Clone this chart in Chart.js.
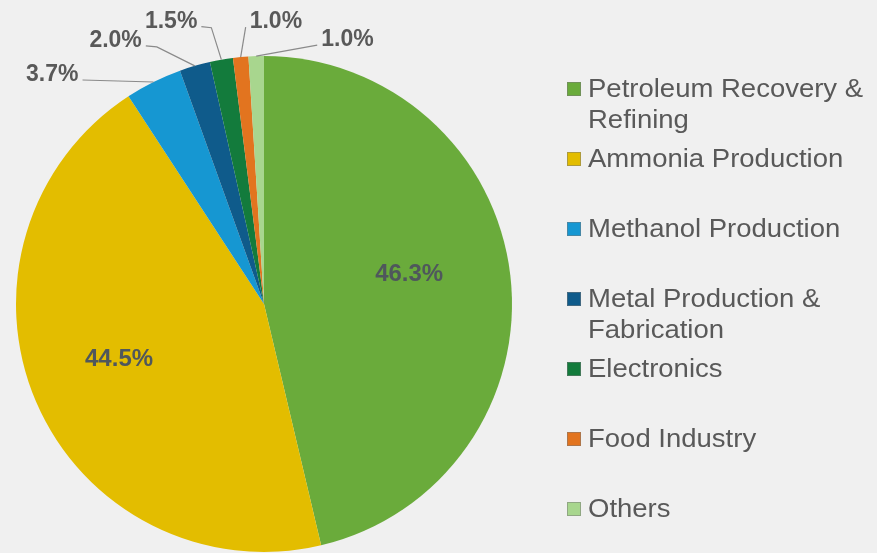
<!DOCTYPE html>
<html>
<head>
<meta charset="utf-8">
<script src="https://cdn.jsdelivr.net/npm/chart.js@4/dist/chart.umd.min.js"></script>
<style>
  html, body { margin: 0; padding: 0; background: #f0f0f0; }
  #wrap { width: 877px; height: 553px; position: relative; }
</style>
</head>
<body>
<div id="wrap"><canvas id="c" width="877" height="553"></canvas></div>
<script>
// ---- data ----
const categories = [
  "Petroleum Recovery & Refining",
  "Ammonia Production",
  "Methanol Production",
  "Metal Production & Fabrication",
  "Electronics",
  "Food Industry",
  "Others"
];
const shares = [46.3, 44.5, 3.7, 2.0, 1.5, 1.0, 1.0];
const sliceColors = ["#6aab3b", "#e3bd00", "#1697d2", "#0f5b8b", "#137b3c", "#e2741f", "#a8d68e"];

// ---- label layout (offsets from the slice anchor) ----
// inside: offset from arc centre point; outside: leader-line points relative to the outer-edge midpoint
const labelLayout = [
  { type: "inside", dx: 22, dy: -17 },
  { type: "inside", dx: -31, dy: 5 },
  { type: "outside", pts: [[-71, -2]], align: "right" },
  { type: "outside", pts: [[-38, -19], [-49, -20]], align: "right" },
  { type: "outside", pts: [[-10, -32], [-20, -33]], align: "right" },
  { type: "outside", pts: [[5, -30]], align: "left" },
  { type: "outside", pts: [[61, -11]], align: "left" }
];

const bgPlugin = {
  id: "bg",
  beforeDraw(chart) {
    const ctx = chart.ctx;
    ctx.save();
    ctx.fillStyle = "#f0f0f0";
    ctx.fillRect(0, 0, chart.width, chart.height);
    ctx.restore();
  }
};

const labelPlugin = {
  id: "sliceLabels",
  afterDatasetsDraw(chart) {
    const ctx = chart.ctx;
    const meta = chart.getDatasetMeta(0);
    meta.data.forEach((arc, i) => {
      const lay = labelLayout[i];
      const txt = shares[i].toFixed(1) + "%";
      ctx.save();
      if (lay.type === "inside") {
        const c = arc.getCenterPoint();
        ctx.font = "bold 24px 'Liberation Sans', Arial, sans-serif";
        ctx.fillStyle = "#4f575c";
        ctx.textAlign = "center";
        ctx.textBaseline = "alphabetic";
        ctx.fillText(txt, c.x + lay.dx, c.y + lay.dy + 8.5);
      } else {
        const p = arc.getProps(["x", "y", "startAngle", "endAngle", "outerRadius"], true);
        const mid = (p.startAngle + p.endAngle) / 2;
        const ax = p.x + Math.cos(mid) * p.outerRadius;
        const ay = p.y + Math.sin(mid) * p.outerRadius;
        ctx.strokeStyle = "#8a8a8a";
        ctx.lineWidth = 1.2;
        ctx.beginPath();
        ctx.moveTo(ax, ay);
        let ex = ax, ey = ay;
        lay.pts.forEach(pt => { ex = ax + pt[0]; ey = ay + pt[1]; ctx.lineTo(ex, ey); });
        ctx.stroke();
        ctx.font = "bold 23px 'Liberation Sans', Arial, sans-serif";
        ctx.fillStyle = "#595959";
        ctx.textBaseline = "alphabetic";
        ctx.textAlign = lay.align;
        const tx = lay.align === "right" ? ex - 4 : ex + 4;
        ctx.fillText(txt, tx, ey + 1);
      }
      ctx.restore();
    });
  }
};

const legendPlugin = {
  id: "sideLegend",
  afterDraw(chart) {
    const ctx = chart.ctx;
    const sx = 1.1;
    const boxX = 567, textX = 588, firstY = 89, step = 70, lineH = 31, maxW = 284;
    ctx.save();
    ctx.font = "25px 'Liberation Sans', Arial, sans-serif";
    ctx.textBaseline = "alphabetic";
    ctx.textAlign = "left";
    categories.forEach((name, i) => {
      const cy = firstY + i * step;
      ctx.fillStyle = sliceColors[i];
      ctx.fillRect(boxX, cy - 7, 14, 14);
      ctx.strokeStyle = "rgba(120,120,120,0.5)";
      ctx.lineWidth = 1;
      ctx.strokeRect(boxX + 0.5, cy - 6.5, 13, 13);
      // wrap words
      const words = name.split(" ");
      const lines = [];
      let cur = "";
      words.forEach(w => {
        const test = cur ? cur + " " + w : w;
        if (ctx.measureText(test).width * sx > maxW && cur) { lines.push(cur); cur = w; }
        else cur = test;
      });
      lines.push(cur);
      ctx.fillStyle = "#595959";
      lines.forEach((ln, k) => {
        ctx.save();
        ctx.translate(textX, cy + 8 + k * lineH);
        ctx.scale(sx, 1);
        ctx.fillText(ln, 0, 0);
        ctx.restore();
      });
    });
    ctx.restore();
  }
};

new Chart(document.getElementById("c"), {
  type: "pie",
  data: {
    labels: categories,
    datasets: [{
      data: shares,
      backgroundColor: sliceColors,
      borderWidth: 0
    }]
  },
  options: {
    responsive: false,
    animation: false,
    layout: { padding: { left: 16, right: 365, top: 56, bottom: 1 } },
    plugins: {
      legend: { display: false },
      tooltip: { enabled: false }
    }
  },
  plugins: [bgPlugin, labelPlugin, legendPlugin]
});
</script>
</body>
</html>
